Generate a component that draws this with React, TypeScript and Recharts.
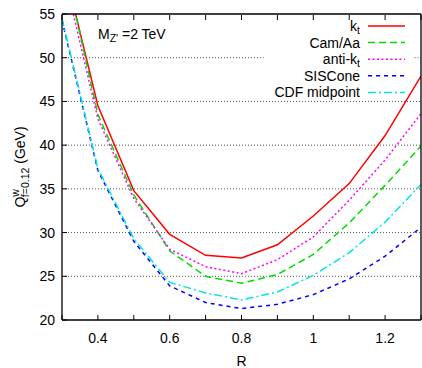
import { LineChart, Line, XAxis, YAxis, ReferenceLine, Legend } from "recharts";

const FONT = "'Liberation Sans', Arial, sans-serif";

// jet radius R
const rValues = [0.3, 0.4, 0.5, 0.6, 0.7, 0.8, 0.9, 1.0, 1.1, 1.2, 1.3];

// Q^w_{f=0.12} in GeV, one list per algorithm
const ktQ = [61.4, 44.5, 34.8, 29.8, 27.4, 27.1, 28.6, 31.9, 35.6, 41.1, 47.9];
const camAaQ = [62.0, 43.5, 34.3, 27.9, 25.0, 24.2, 25.2, 27.5, 31.1, 35.4, 39.9];
const antiKtQ = [60.5, 43.0, 33.9, 28.1, 26.1, 25.3, 26.9, 29.5, 33.7, 38.3, 43.6];
const sisConeQ = [54.3, 37.1, 29.0, 23.9, 22.0, 21.3, 21.8, 22.9, 24.7, 27.3, 30.6];
const cdfMidQ = [54.5, 37.3, 29.3, 24.3, 23.1, 22.3, 23.2, 25.1, 27.7, 31.2, 35.5];

const xTicks = [0.3, 0.4, 0.5, 0.6, 0.7, 0.8, 0.9, 1.0, 1.1, 1.2, 1.3];
const xLabelTicks = [0.4, 0.6, 0.8, 1, 1.2];
const yTicks = [20, 25, 30, 35, 40, 45, 50, 55];
const gridValues = [25, 30, 35, 40, 45];
// the 50 GeV grid line stops where the key sits
const keyGapFrom = 0.862;
const keyGapTo = 1.282;

const series = [
  { key: "kt", label: "k", sub: "t", color: "#ff0000", dash: undefined },
  { key: "camAa", label: "Cam/Aa", sub: "", color: "#00dd00", dash: "7 4" },
  { key: "antiKt", label: "anti-k", sub: "t", color: "#ff00ff", dash: "2 2.5" },
  { key: "sisCone", label: "SISCone", sub: "", color: "#0000ff", dash: "4 4" },
  { key: "cdfMid", label: "CDF midpoint", sub: "", color: "#00e5e5", dash: "8 3 2 3" },
];

const data = rValues.map((r, i) => ({
  r,
  kt: ktQ[i],
  camAa: camAaQ[i],
  antiKt: antiKtQ[i],
  sisCone: sisConeQ[i],
  cdfMid: cdfMidQ[i],
}));

const TICK = 5;
const frame = { stroke: "#000", strokeWidth: 1.3 };
const gridStyle = { stroke: "#555", strokeWidth: 1, strokeDasharray: "1 2" };

const BottomTick = (props: any) => {
  const { x, y, payload } = props;
  const v = payload.value;
  const labelled = xLabelTicks.some((t) => Math.abs(t - v) < 1e-6);
  return (
    <g>
      <line x1={x} x2={x} y1={y} y2={y - TICK} stroke="#000" />
      {labelled && (
        <text x={x} y={y + 23} textAnchor="middle" fontSize={14} fill="#000" fontFamily={FONT}>
          {String(v)}
        </text>
      )}
    </g>
  );
};

const TopTick = (props: any) => {
  const { x, y } = props;
  return <line x1={x} x2={x} y1={y + 1} y2={y + 1 + TICK} stroke="#000" />;
};

const LeftTick = (props: any) => {
  const { x, y, payload } = props;
  return (
    <g>
      <line x1={x} x2={x + TICK} y1={y} y2={y} stroke="#000" />
      <text x={x - 7} y={y} dy="0.36em" textAnchor="end" fontSize={14} fill="#000" fontFamily={FONT}>
        {payload.value}
      </text>
    </g>
  );
};

const RightTick = (props: any) => {
  const { x, y } = props;
  return <line x1={x - 1} x2={x - 1 - TICK} y1={y} y2={y} stroke="#000" />;
};

const RLabel = (props: any) => {
  const vb = props.viewBox;
  return (
    <text x={vb.x + vb.width / 2} y={vb.y + 46} textAnchor="middle" fontSize={14} fill="#000" fontFamily={FONT}>
      R
    </text>
  );
};

const QLabel = (props: any) => {
  const vb = props.viewBox;
  const cx = vb.x + 25;
  const cy = vb.y + vb.height / 2;
  return (
    <text
      x={cx}
      y={cy}
      transform={`rotate(-90, ${cx}, ${cy})`}
      textAnchor="middle"
      fontSize={14}
      fill="#000"
      fontFamily={FONT}
    >
      Q
      <tspan fontSize={10.5} dy={-6}>w</tspan>
      <tspan fontSize={10.5} dx={-8} dy={10}>f=0.12</tspan>
      <tspan dy={-4}> (GeV)</tspan>
    </text>
  );
};

// annotation in the upper left plus the key in the upper right
const KeyBox = () => (
  <svg width={422} height={110} style={{ display: "block", overflow: "visible" }}>
    <text x={98} y={39} fontSize={14} fill="#000" fontFamily={FONT}>
      M
      <tspan fontSize={10.5} dy={3}>Z'</tspan>
      <tspan dy={-3}> =2 TeV</tspan>
    </text>
    {series.map((s, i) => {
      const y = 26 + i * 16.6;
      return (
        <g key={s.key}>
          <text x={360} y={y} dy="0.36em" textAnchor="end" fontSize={14} fill="#000" fontFamily={FONT}>
            {s.label}
            {s.sub && (
              <tspan fontSize={10.5} dy={3}>
                {s.sub}
              </tspan>
            )}
          </text>
          <line x1={368} x2={405} y1={y} y2={y} stroke={s.color} strokeWidth={1.5} strokeDasharray={s.dash} />
        </g>
      );
    })}
  </svg>
);

export default function App() {
  return (
    <div style={{ position: "absolute", left: 0, top: 0, width: 422, height: 368, background: "#fff" }}>
      <LineChart
        width={422}
        height={368}
        data={data}
        margin={{ top: 13, right: 0, bottom: 0, left: 0 }}
        style={{ fontFamily: FONT }}
      >
        {gridValues.map((v) => (
          <ReferenceLine key={v} y={v} {...gridStyle} />
        ))}
        <ReferenceLine
          segment={[
            { x: 0.3, y: 50 },
            { x: keyGapFrom, y: 50 },
          ]}
          {...gridStyle}
        />
        <ReferenceLine
          segment={[
            { x: keyGapTo, y: 50 },
            { x: 1.3, y: 50 },
          ]}
          {...gridStyle}
        />
        <XAxis
          dataKey="r"
          type="number"
          domain={[0.3, 1.3]}
          ticks={xTicks}
          interval={0}
          allowDataOverflow
          height={48}
          tickSize={0}
          tickMargin={0}
          tickLine={false}
          axisLine={frame}
          tick={<BottomTick />}
          label={<RLabel />}
        />
        <XAxis
          xAxisId="top"
          orientation="top"
          dataKey="r"
          type="number"
          domain={[0.3, 1.3]}
          ticks={xTicks}
          interval={0}
          height={1}
          tickSize={0}
          tickMargin={0}
          tickLine={false}
          axisLine={frame}
          tick={<TopTick />}
        />
        <YAxis
          type="number"
          domain={[20, 55]}
          ticks={yTicks}
          interval={0}
          allowDataOverflow
          width={62}
          tickSize={0}
          tickMargin={0}
          tickLine={false}
          axisLine={frame}
          tick={<LeftTick />}
          label={<QLabel />}
        />
        <YAxis
          yAxisId="right"
          orientation="right"
          type="number"
          domain={[20, 55]}
          ticks={yTicks}
          interval={0}
          width={1}
          tickSize={0}
          tickMargin={0}
          tickLine={false}
          axisLine={frame}
          tick={<RightTick />}
        />
        {series.map((s) => (
          <Line
            key={s.key}
            type="linear"
            dataKey={s.key}
            name={s.label + s.sub}
            stroke={s.color}
            strokeWidth={1.5}
            strokeDasharray={s.dash}
            dot={false}
            isAnimationActive={false}
          />
        ))}
        <Legend
          layout="horizontal"
          verticalAlign="middle"
          align="center"
          content={<KeyBox />}
          wrapperStyle={{ left: 0, top: 0, width: 422, height: 110, pointerEvents: "none" }}
        />
      </LineChart>
    </div>
  );
}
